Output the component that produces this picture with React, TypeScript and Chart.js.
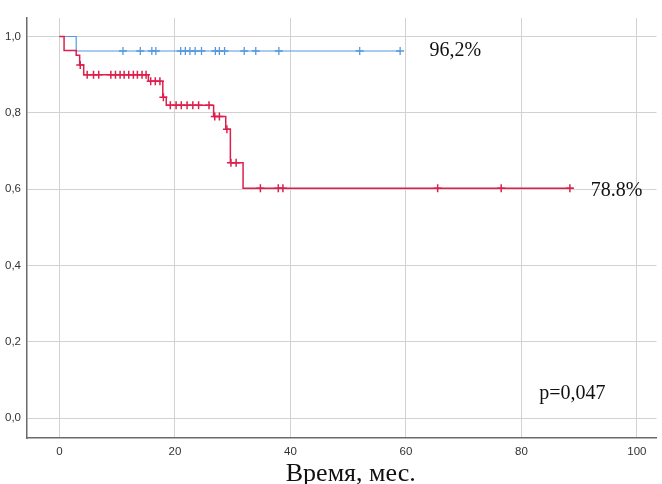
import { useEffect, useRef } from 'react';
import { Chart, registerables } from 'chart.js';

Chart.register(...registerables);

const xTicks = [0, 20, 40, 60, 80, 100];
const yTicks = [0, 0.2, 0.4, 0.6, 0.8, 1.0];

// Blue group (Kaplan–Meier steps)
const blueTimes = [0, 2.9];
const blueSurv = [1.0, 0.962];
const blueEnd = 59;
const blueCensored = [11, 14, 16, 16.7, 21, 21.8, 22.6, 23.5, 24.6, 27, 27.7, 28.6, 32, 34, 38, 52, 59];

// Red group
const redTimes = [0, 0.8, 2.9, 3.5, 4.2, 15.4, 17.9, 18.5, 26.7, 28.8, 29.6, 31.8];
const redSurv = [1.0, 0.963, 0.951, 0.925, 0.9, 0.883, 0.841, 0.82, 0.79, 0.757, 0.669, 0.602];
const redEnd = 89;
const redCensored = [
  3.6, 4.8, 5.9, 6.8, 8.9, 9.7, 10.5, 11.2, 12.0, 12.8, 13.5, 14.3, 15.0,
  15.8, 16.6, 17.4, 18.0, 19.2, 20.2, 21.1, 22.1, 23.1, 24.1, 25.9, 26.9,
  27.7, 29.0, 29.7, 30.6, 34.8, 37.9, 38.7, 65.5, 76.5, 88.4,
];

const blueLabel = '96,2%';
const redLabel = '78.8%';
const pLabel = 'p=0,047';
const xTitle = 'Время, мес.';

const BLUE = '#5598e2';
const RED = '#dc1f4c';

function levelAt(times: number[], surv: number[], t: number) {
  let s = surv[0];
  for (let i = 0; i < times.length; i++) if (times[i] <= t) s = surv[i];
  return s;
}

function stepPoints(times: number[], surv: number[], end: number) {
  const pts = times.map((t, i) => ({ x: t, y: surv[i] }));
  pts.push({ x: end, y: surv[surv.length - 1] });
  return pts;
}

const textPlugin = {
  id: 'kmText',
  afterDraw(chart: any) {
    const { ctx, scales, chartArea } = chart;
    const xs = scales.x;
    const ys = scales.y;
    ctx.save();
    ctx.fillStyle = '#111';
    ctx.textBaseline = 'alphabetic';
    ctx.textAlign = 'left';
    ctx.font = '20px "Liberation Serif", "Times New Roman", serif';
    ctx.fillText(blueLabel, xs.getPixelForValue(64.1), ys.getPixelForValue(blueSurv[blueSurv.length - 1]) + 5);
    ctx.fillText(redLabel, xs.getPixelForValue(92.0), ys.getPixelForValue(redSurv[redSurv.length - 1]) + 8);
    ctx.font = '20px "Liberation Serif", "Times New Roman", serif';
    ctx.fillText(pLabel, xs.getPixelForValue(83.1), ys.getPixelForValue(0.05));
    ctx.font = '26px "Liberation Serif", "Times New Roman", serif';
    ctx.textAlign = 'center';
    ctx.fillText(xTitle, (chartArea.left + chartArea.right) / 2 + 9, chart.height - 3);
    ctx.restore();
  },
};

export default function App() {
  const ref = useRef<HTMLCanvasElement>(null);
  useEffect(() => {
    if (!ref.current) return;
    const tickFont = { family: '"Liberation Sans", Arial, sans-serif', size: 11.5 };
    const chart = new Chart(ref.current, {
      type: 'scatter',
      data: {
        datasets: [
          {
            label: 'red-censored',
            data: redCensored.map((t) => ({ x: t, y: levelAt(redTimes, redSurv, t) })),
            showLine: false,
            pointStyle: 'cross',
            pointRadius: 4,
            borderColor: RED,
            backgroundColor: RED,
            borderWidth: 1.5,
          },
          {
            label: 'red',
            data: stepPoints(redTimes, redSurv, redEnd),
            showLine: true,
            stepped: true,
            pointRadius: 0,
            borderColor: RED,
            borderWidth: 1.5,
          },
          {
            label: 'blue-censored',
            data: blueCensored.map((t) => ({ x: t, y: levelAt(blueTimes, blueSurv, t) })),
            showLine: false,
            pointStyle: 'cross',
            pointRadius: 4,
            borderColor: BLUE,
            backgroundColor: BLUE,
            borderWidth: 1.3,
          },
          {
            label: 'blue',
            data: stepPoints(blueTimes, blueSurv, blueEnd),
            showLine: true,
            stepped: true,
            pointRadius: 0,
            borderColor: BLUE,
            borderWidth: 1.2,
          },
        ],
      },
      options: {
        animation: false,
        responsive: true,
        maintainAspectRatio: false,
        layout: { padding: { left: 4, top: 18, right: 0, bottom: 26 } },
        plugins: { legend: { display: false }, tooltip: { enabled: false }, title: { display: false } },
        scales: {
          x: {
            type: 'linear',
            min: -5.62,
            max: 103.4,
            afterBuildTicks: (s: any) => {
              s.ticks = xTicks.map((v) => ({ value: v }));
            },
            afterFit: (s: any) => {
              s.height = 20;
            },
            ticks: {
              font: tickFont,
              color: '#333',
              padding: 7,
              maxRotation: 0,
              callback: (v: any) => String(v),
            },
            grid: { color: '#d2d2d2', lineWidth: 1, drawTicks: false },
            border: { display: true, color: '#6a6a6a', width: 1.5 },
          },
          y: {
            type: 'linear',
            min: -0.0524,
            max: 1.0485,
            afterBuildTicks: (s: any) => {
              s.ticks = yTicks.map((v) => ({ value: v }));
            },
            afterFit: (s: any) => {
              s.width = 23;
            },
            ticks: {
              font: tickFont,
              color: '#333',
              padding: 6,
              callback: (v: any) => Number(v).toFixed(1).replace('.', ','),
            },
            grid: { color: '#d2d2d2', lineWidth: 1, drawTicks: false },
            border: { display: true, color: '#6a6a6a', width: 1.5 },
          },
        },
      },
      plugins: [textPlugin],
    });
    return () => chart.destroy();
  }, []);
  return (
    <div style={{ position: 'absolute', left: 0, top: 0, width: 662, height: 484, background: '#fff' }}>
      <canvas ref={ref} />
    </div>
  );
}
